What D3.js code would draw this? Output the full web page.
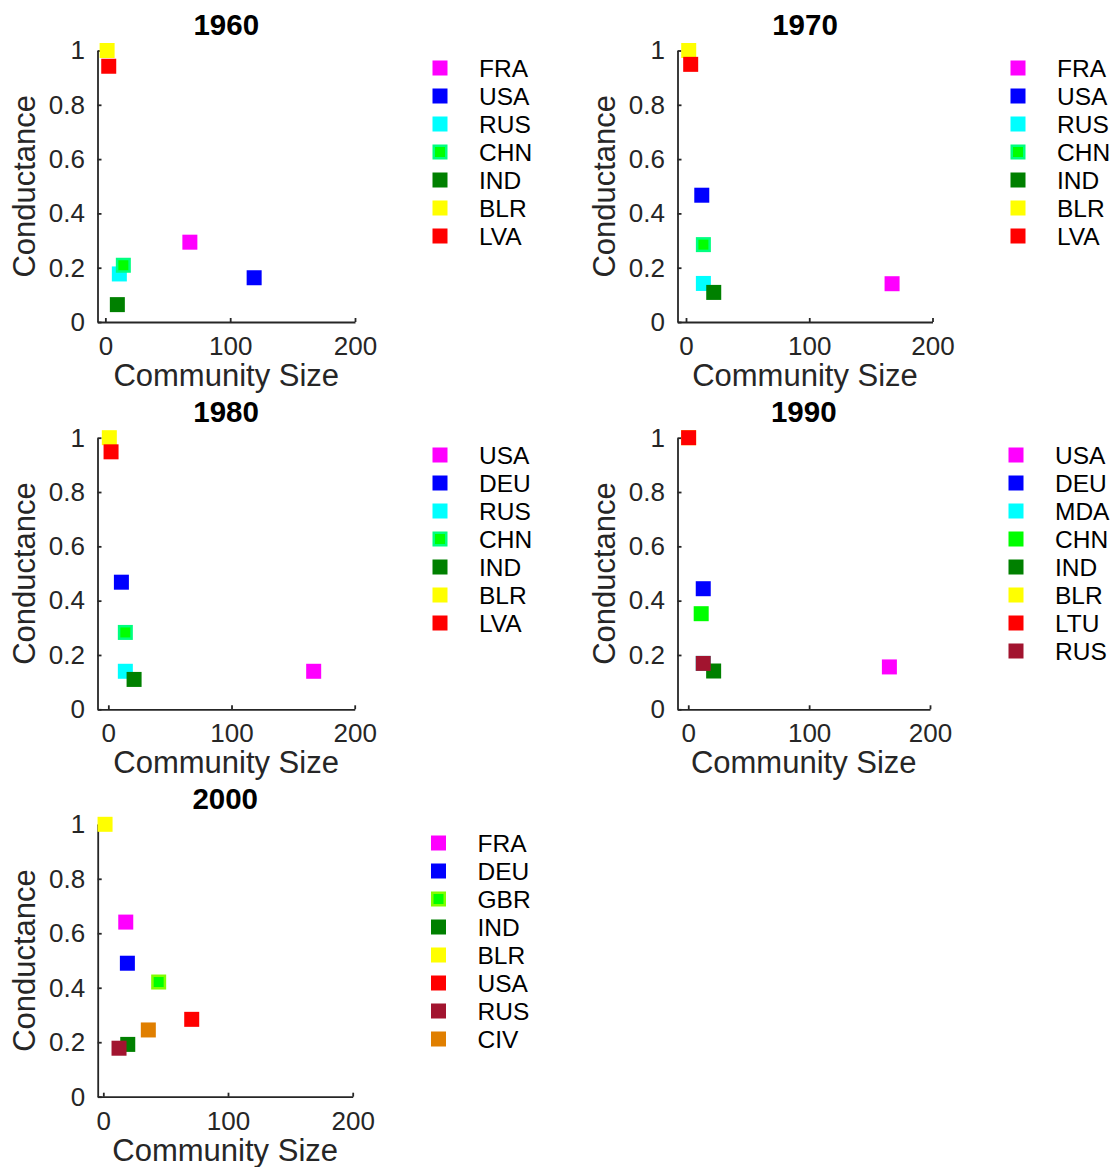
<!DOCTYPE html>
<html>
<head>
<meta charset="utf-8">
<script src="https://cdn.jsdelivr.net/npm/d3@7"></script>
<style>
  html, body { margin: 0; padding: 0; background: #fff; }
  svg { display: block; }
  text { font-family: "Liberation Sans", Arial, Helvetica, sans-serif; }
</style>
</head>
<body>
<svg id="chart" width="1115" height="1167"></svg>
<script>
// ---- data ----
const years = ["1960", "1970", "1980", "1990", "2000"];

const countries1960 = ["FRA", "USA", "RUS", "CHN", "IND", "BLR", "LVA"];
const size1960 = [67.7, 119.2, 11.2, 14.4, 9.6, 1.4, 2.7];
const cond1960 = [0.294, 0.163, 0.177, 0.209, 0.064, 1.0, 0.942];

const countries1970 = ["FRA", "USA", "RUS", "CHN", "IND", "BLR", "LVA"];
const size1970 = [167.2, 12.8, 14.1, 14.1, 22.5, 2.2, 3.8];
const cond1970 = [0.141, 0.467, 0.142, 0.285, 0.109, 1.0, 0.949];

const countries1980 = ["USA", "DEU", "RUS", "CHN", "IND", "BLR", "LVA"];
const size1980 = [166.7, 10.6, 13.8, 13.8, 20.9, 0.8, 2.2];
const cond1980 = [0.140, 0.468, 0.140, 0.283, 0.110, 1.0, 0.948];

const countries1990 = ["USA", "DEU", "MDA", "CHN", "IND", "BLR", "LTU", "RUS"];
const size1990 = [166.4, 12.4, 12.4, 10.7, 21.0, 0.3, 0.3, 12.4];
const cond1990 = [0.156, 0.444, 0.169, 0.352, 0.141, 1.0, 1.0, 0.169];

const countries2000 = ["FRA", "DEU", "GBR", "IND", "BLR", "USA", "RUS", "CIV"];
const size2000 = [18.0, 19.3, 44.4, 19.6, 1.4, 70.9, 12.6, 36.1];
const cond2000 = [0.641, 0.490, 0.421, 0.192, 1.0, 0.284, 0.178, 0.245];

const xTicks = [0, 100, 200];
const xTickLabels = ["0", "100", "200"];
const yTicks = [0, 0.2, 0.4, 0.6, 0.8, 1];
const yTickLabels = ["0", "0.2", "0.4", "0.6", "0.8", "1"];

// ---- styles ----
const C = {
  magenta: "#ff00ff", blue: "#0000ff", cyan: "#00ffff", green: "#00ff00",
  dgreen: "#008000", yellow: "#ffff00", red: "#ff0000", maroon: "#a2142f",
  orange: "#e07f00"
};
const fills = [
  [C.magenta, C.blue, C.cyan, C.green, C.dgreen, C.yellow, C.red],
  [C.magenta, C.blue, C.cyan, C.green, C.dgreen, C.yellow, C.red],
  [C.magenta, C.blue, C.cyan, C.green, C.dgreen, C.yellow, C.red],
  [C.magenta, C.blue, C.cyan, C.green, C.dgreen, C.yellow, C.red, C.maroon],
  [C.magenta, C.blue, C.green, C.dgreen, C.yellow, C.red, C.maroon, C.orange]
];
// marker edge colours (null = same as fill)
const edges = [
  [null, null, null, "#00ff80", null, null, null],
  [null, null, null, "#00ff80", null, null, null],
  [null, null, null, "#00ff80", null, null, null],
  [null, null, null, null, null, null, null, null],
  [null, null, "#80ff00", null, null, null, null, null]
];

const panelData = [
  { c: countries1960, x: size1960, y: cond1960 },
  { c: countries1970, x: size1970, y: cond1970 },
  { c: countries1980, x: size1980, y: cond1980 },
  { c: countries1990, x: size1990, y: cond1990 },
  { c: countries2000, x: size2000, y: cond2000 }
];

// ---- layout ----
const layout = [
  { left: 97.5, right: 355,   top: 50.5,  bottom: 322,    xMin: -6.3, legX: 440,    legY: 68 },
  { left: 677.5, right: 932.5, top: 50.5,  bottom: 322,    xMin: -6.9, legX: 1018,   legY: 68 },
  { left: 97.5, right: 354.7, top: 437.7, bottom: 709.3,  xMin: -8.8, legX: 440,    legY: 455 },
  { left: 677.5, right: 930,   top: 437.7, bottom: 709.3,  xMin: -8.9, legX: 1016,   legY: 455 },
  { left: 97.7, right: 352.7, top: 824.3, bottom: 1096.7, xMin: -4.5, legX: 438.5,  legY: 843 }
];

const MS = 15;        // marker size
const EW = 2.5;       // marker edge width
const legendStep = 28;
const axisColor = "#262626";
const FONT = '"Liberation Sans", Arial, Helvetica, sans-serif';

const svg = d3.select("#chart");

function drawMarker(g, cx, cy, fill, edge) {
  if (edge) {
    g.append("rect")
      .attr("x", cx - (MS - EW) / 2).attr("y", cy - (MS - EW) / 2)
      .attr("width", MS - EW).attr("height", MS - EW)
      .attr("fill", fill).attr("stroke", edge).attr("stroke-width", EW);
  } else {
    g.append("rect")
      .attr("x", cx - MS / 2).attr("y", cy - MS / 2)
      .attr("width", MS).attr("height", MS)
      .attr("fill", fill);
  }
}

years.forEach((year, i) => {
  const L = layout[i];
  const D = panelData[i];
  const g = svg.append("g");

  const x = d3.scaleLinear().domain([L.xMin, 200]).range([L.left, L.right]);
  const y = d3.scaleLinear().domain([0, 1]).range([L.bottom, L.top]);

  // axes with inward ticks
  const xAxis = d3.axisBottom(x)
    .tickValues(xTicks)
    .tickFormat((d, k) => xTickLabels[k])
    .tickSizeInner(-4).tickSizeOuter(0).tickPadding(14.5);
  const yAxis = d3.axisLeft(y)
    .tickValues(yTicks)
    .tickFormat((d, k) => yTickLabels[k])
    .tickSizeInner(-4).tickSizeOuter(0).tickPadding(12.5);

  const gx = g.append("g").attr("transform", `translate(0,${L.bottom})`).call(xAxis);
  const gy = g.append("g").attr("transform", `translate(${L.left},0)`).call(yAxis);
  [gx, gy].forEach(a => {
    a.select(".domain").attr("stroke", axisColor).attr("stroke-width", 1.8);
    a.selectAll(".tick line").attr("stroke", axisColor).attr("stroke-width", 1.8);
    a.selectAll(".tick text")
      .attr("fill", axisColor)
      .style("font-family", FONT)
      .style("font-size", "26px");
  });

  // markers
  D.c.forEach((name, k) => {
    drawMarker(g, x(D.x[k]), y(D.y[k]), fills[i][k], edges[i][k]);
  });

  // title
  const cx = (L.left + L.right) / 2;
  g.append("text")
    .attr("x", cx).attr("y", L.top - 15.5)
    .attr("text-anchor", "middle")
    .attr("font-size", 29.5).attr("font-weight", "bold")
    .attr("fill", "#000")
    .text(year);

  // axis labels
  g.append("text")
    .attr("x", cx).attr("y", L.bottom + 64)
    .attr("text-anchor", "middle")
    .attr("font-size", 31).attr("fill", axisColor)
    .text("Community Size");
  g.append("text")
    .attr("transform", `translate(${L.left - 62.5},${(L.top + L.bottom) / 2}) rotate(-90)`)
    .attr("text-anchor", "middle")
    .attr("font-size", 31).attr("fill", axisColor)
    .text("Conductance");

  // legend
  D.c.forEach((name, k) => {
    const ly = L.legY + k * legendStep;
    drawMarker(g, L.legX, ly, fills[i][k], edges[i][k]);
    g.append("text")
      .attr("x", L.legX + 39).attr("y", ly)
      .attr("dy", "0.36em")
      .attr("font-size", 24.5).attr("fill", "#000")
      .text(name);
  });
});
</script>
</body>
</html>
